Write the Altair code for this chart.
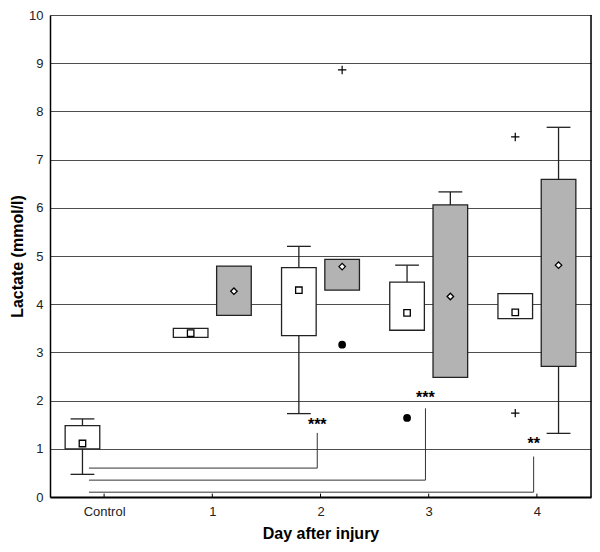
import json
import altair as alt
import pandas as pd

# ---------------- data ----------------
days = ["Control", "1", "2", "3", "4"]

box_day = [0, 1, 1, 2, 2, 3, 3, 4, 4]
box_group = ["white", "white", "gray", "white", "gray", "white", "gray", "white", "gray"]
box_q1 = [1.00, 3.31, 3.77, 3.35, 4.29, 3.46, 2.48, 3.70, 2.71]
box_q3 = [1.48, 3.50, 4.79, 4.76, 4.93, 4.46, 6.06, 4.22, 6.59]
box_mean = [1.11, 3.40, 4.27, 4.29, 4.78, 3.82, 4.16, 3.83, 4.81]
box_lo = [0.47, None, None, 1.73, None, None, None, None, 1.32]
box_hi = [1.62, None, None, 5.20, None, 4.81, 6.33, None, 7.67]

out_day = [2, 2, 3, 4, 4]
out_group = ["gray", "gray", "white", "white", "white"]
out_value = [3.16, 8.86, 1.64, 7.47, 1.74]
out_kind = ["dot", "plus", "dot", "plus", "plus"]

sig_start = [-0.14, -0.14, -0.14]
sig_end = [1.97, 2.97, 3.97]
sig_level = [0.60, 0.35, 0.10]
sig_top = [1.33, 1.84, 0.84]
sig_label = ["***", "***", "**"]
sig_label_y = [1.49, 2.06, 1.10]

y_ticks = list(range(0, 11))

# ---------------- tables ----------------
boxes = pd.DataFrame({
    "day": box_day, "group": box_group, "q1": box_q1, "q3": box_q3,
    "mean": box_mean, "lo": box_lo, "hi": box_hi,
})
outliers = pd.DataFrame({"day": out_day, "group": out_group,
                         "value": out_value, "kind": out_kind})
sig = pd.DataFrame({"start": sig_start, "end": sig_end, "level": sig_level,
                    "top": sig_top, "label": sig_label, "label_y": sig_label_y})
ticks = pd.DataFrame({"day": list(range(len(days)))})

FONT = "Liberation Sans"
LINE = "#222222"
GRAY = "#b3b3b3"

xscale = alt.Scale(domain=[-0.5, len(days) - 0.5], nice=False, zero=False)
yscale = alt.Scale(domain=[0, 10], nice=False)

label_expr = json.dumps(days) + "[datum.value]"

x_axis = alt.Axis(values=list(range(len(days))), labelExpr=label_expr, grid=False,
                  tickSize=0, domainColor="black", domainWidth=2, labelPadding=8,
                  labelFontSize=13, labelColor="#222", labelFont=FONT,
                  title="Day after injury", titleFont=FONT, titleFontSize=16,
                  titleFontWeight="bold", titlePadding=7, titleColor="black")
y_axis = alt.Axis(values=y_ticks, grid=True, gridColor="#4d4d4d", gridWidth=1,
                  tickSize=0, domainColor="black", domainWidth=1.5, labelPadding=7,
                  labelFontSize=13, labelColor="#222", labelFont=FONT,
                  title="Lactate (mmol/l)", titleFont=FONT, titleFontSize=16,
                  titleFontWeight="bold", titlePadding=3, titleColor="black")


def X(field):
    return alt.X(field, scale=xscale, axis=x_axis)


def Y(field):
    return alt.Y(field, scale=yscale, axis=y_axis)


pos_calc = dict(
    xc="datum.group == 'white' ? datum.day - 0.2 : datum.day + 0.2",
)

base_box = alt.Chart(boxes).transform_calculate(**pos_calc).transform_calculate(
    xl="datum.xc - 0.16", xr="datum.xc + 0.16",
    cl="datum.xc - 0.11", cr="datum.xc + 0.11",
)

# whiskers
lower_whisk = base_box.transform_filter("isValid(datum.lo)").mark_rule(
    color=LINE, strokeWidth=1.3).encode(x=X("xc:Q"), y=Y("lo:Q"), y2="q1:Q")
lower_cap = base_box.transform_filter("isValid(datum.lo)").mark_rule(
    color=LINE, strokeWidth=1.3).encode(x=X("cl:Q"), x2="cr:Q", y=Y("lo:Q"))
upper_whisk = base_box.transform_filter("isValid(datum.hi)").mark_rule(
    color=LINE, strokeWidth=1.3).encode(x=X("xc:Q"), y=Y("q3:Q"), y2="hi:Q")
upper_cap = base_box.transform_filter("isValid(datum.hi)").mark_rule(
    color=LINE, strokeWidth=1.3).encode(x=X("cl:Q"), x2="cr:Q", y=Y("hi:Q"))

rects = base_box.mark_rect(stroke=LINE, strokeWidth=1.3).encode(
    x=X("xl:Q"), x2="xr:Q", y=Y("q1:Q"), y2="q3:Q",
    fill=alt.Fill("group:N", scale=alt.Scale(domain=["white", "gray"],
                                             range=["white", GRAY]), legend=None))

means = base_box.mark_point(filled=True, fill="white", stroke="black",
                            strokeWidth=1.3, size=42, opacity=1).encode(
    x=X("xc:Q"), y=Y("mean:Q"),
    shape=alt.Shape("group:N", scale=alt.Scale(domain=["white", "gray"],
                                               range=["square", "diamond"]), legend=None))

base_out = alt.Chart(outliers).transform_calculate(**pos_calc)
dots = base_out.transform_filter("datum.kind == 'dot'").mark_circle(
    color="black", size=60, opacity=1).encode(x=X("xc:Q"), y=Y("value:Q"))
pluses = base_out.transform_filter("datum.kind == 'plus'").mark_point(
    shape="M -1 0 L 1 0 M 0 -1 L 0 1", filled=False, stroke="black",
    strokeWidth=1.2, size=70, opacity=1).encode(x=X("xc:Q"), y=Y("value:Q"))

sig_h = alt.Chart(sig).mark_rule(color="#333", strokeWidth=1).encode(
    x=X("start:Q"), x2="end:Q", y=Y("level:Q"))
sig_v = alt.Chart(sig).mark_rule(color="#333", strokeWidth=1).encode(
    x=X("end:Q"), y=Y("level:Q"), y2="top:Q")
sig_t = alt.Chart(sig).mark_text(font=FONT, fontSize=16, fontWeight="bold",
                                 color="black", baseline="middle", align="center").encode(
    x=X("end:Q"), y=Y("label_y:Q"), text="label:N")

xticks = alt.Chart(ticks).mark_rule(color="black", strokeWidth=1).encode(
    x=X("day:Q"),
    y=alt.YDatum(0, scale=yscale, axis=y_axis), y2=alt.Y2Datum(0.07))

right_border = alt.Chart(ticks).transform_filter("datum.day == 0").mark_rule(
    color="black", strokeWidth=1.5).encode(
    x=alt.XDatum(len(days) - 0.5, scale=xscale, axis=x_axis),
    y=alt.YDatum(0, scale=yscale, axis=y_axis), y2=alt.Y2Datum(10))

chart = alt.layer(
    rects, lower_whisk, upper_whisk, lower_cap, upper_cap, means,
    dots, pluses, sig_h, sig_v, sig_t, xticks, right_border,
).properties(
    width=541, height=482,
    autosize=alt.AutoSizeParams(type="none"),
    padding={"left": 42, "top": 7, "right": 1, "bottom": 47},
).configure_view(strokeWidth=0).configure(background="white")

chart.save("out.html", embed_options={"renderer": "svg", "actions": False})
